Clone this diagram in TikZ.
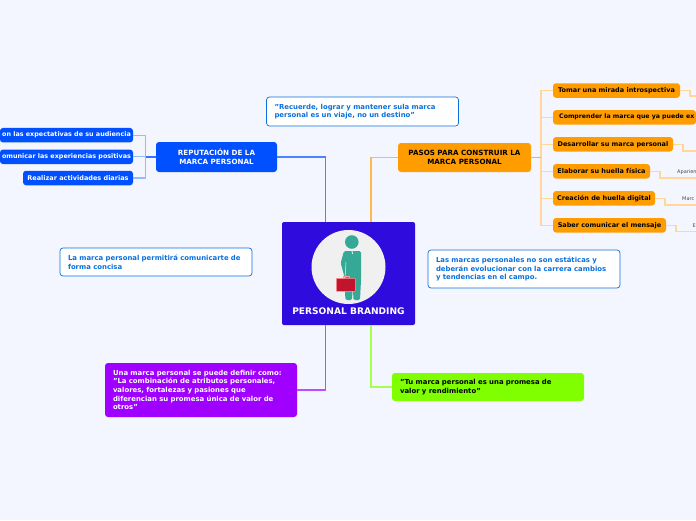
\documentclass[tikz,border=0pt]{standalone}
\usepackage{fontspec}
\setmainfont{DejaVu Sans}
\usetikzlibrary{calc}

\definecolor{pagebg}{HTML}{F3F6FF}
\definecolor{hubcol}{HTML}{300BDE}
\definecolor{bluecol}{HTML}{0050FF}
\definecolor{orangecol}{HTML}{FF9D00}
\definecolor{purplecol}{HTML}{A000FF}
\definecolor{limecol}{HTML}{80FF00}
\definecolor{notecol}{HTML}{0A70DC}
\definecolor{tealcol}{HTML}{36A896}
\definecolor{redcol}{HTML}{C3142D}

\begin{document}
\begin{tikzpicture}[
    x=1pt, y=-1pt,
    box style/.style={rounded corners=3pt, font=\fontsize{6.5}{9}\selectfont\bfseries, inner sep=0pt, outer sep=0pt, anchor=north west},
    main style/.style={box style, font=\fontsize{7.15}{9}\selectfont\bfseries, align=center},
    kid style/.style={box style, fill=#1, minimum height=14.5pt},
    long style/.style={box style, font=\fontsize{6.9}{8.7}\selectfont\bfseries, align=left, text width=192pt, execute at begin node={\leftskip=8pt}},
    note style/.style={long style, draw=notecol, fill=white, text=notecol, line width=.7pt},
    leaf style/.style={font=\fontsize{5}{6}\selectfont, text=black!70, inner sep=0pt, anchor=west},
    every edge/.style={draw, line width=1.2pt},
    down link/.style={to path={|- (\tikztotarget)}},
    right fork/.style={to path={-- ++(10,0) |- (\tikztotarget)}},
    right stem/.style={to path={-- ++(10,0)}},
    left fork/.style={to path={-- ++(-10.5,0) |- (\tikztotarget)}},
    left stem/.style={to path={-- ++(-10.5,0)}}
]

% fixed frame, same size as the reference
\path[use as bounding box, fill=pagebg] (0,0) rectangle (696,520);

% links from the centre
\coordinate (hubNW) at (325.5,222);
\coordinate (hubNE) at (371,222);
\coordinate (hubSW) at (325.5,325);
\coordinate (hubSE) at (371,325);

% central topic
\node[rounded corners=2pt, fill=hubcol, minimum width=133pt, minimum height=103pt, inner sep=0pt, outer sep=0pt, anchor=north west] (hub) at (282,222) {};
\node[circle, fill=black!6, minimum size=74pt, inner sep=0pt] (disc) at (348.5,267) {};
\node[font=\fontsize{9.1}{10}\selectfont\bfseries, text=white, inner sep=0pt] (hubtext) at (348.5,311.5) {PERSONAL BRANDING};

% person with the case
\fill[tealcol] (351.8,242) circle (6.8);
\fill[tealcol, rounded corners=1.5pt] (344,251) -- (361,251) -- (361,280) -- (360,300) -- (353.5,300) -- (352.8,286) -- (352,300) -- (345.3,300) -- (345,279) -- (340.7,263) -- cycle;
\draw[black!6, line width=.5pt] (346,262) -- (345,278);
\draw[black!6, line width=.8pt] (352,251) -- (352.6,254);
\node[rounded corners=.5pt, draw=red!40!white, fill=redcol, line width=.5pt, minimum width=19pt, minimum height=13pt, inner sep=0pt, anchor=north west] (bag) at (336,278) {};
\draw[red!40!white, line width=.6pt] (343,278) -- (343,276.2) -- (349,276.2) -- (349,278);

% main branches
\node[main style, fill=bluecol, text=white, minimum width=121pt, minimum height=30pt] (rep) at (156,142) {REPUTACIÓN DE LA\\MARCA PERSONAL};
\node[main style, fill=orangecol, text=black, minimum width=133pt, minimum height=29pt] (steps) at (398,143) {PASOS PARA CONSTRUIR LA\\MARCA PERSONAL};
\node[long style, fill=purplecol, text=white, minimum height=54pt] (define) at (105,363) {Una marca personal se puede definir como:\\"La combinación de atributos personales,\\valores, fortalezas y pasiones que\\diferencian su promesa única de valor de\\otros"};
\node[long style, fill=limecol, text=black, minimum height=28pt] (promise) at (392,373) {"Tu marca personal es una promesa de\\valor y rendimiento"};

% floating notes
\node[note style, minimum height=29pt] (noteA) at (266.5,97) {"Recuerde, lograr y mantener sula marca\\personal es un viaje, no un destino"};
\node[note style, minimum height=28pt] (noteB) at (60,248) {La marca personal permitirá comunicarte de\\forma concisa};
\node[note style, minimum height=38pt] (noteC) at (428,250) {Las marcas personales no son estáticas y\\deberán evolucionar con la carrera cambios\\y tendencias en el campo.};

% children on the left
\node[kid style=bluecol, text=white, minimum width=133pt, anchor=east] (repA) at (133,135.2) {\fontsize{6.4}{9}\selectfont\hfill on las expectativas de su audiencia\hspace{5pt}};
\node[kid style=bluecol, text=white, minimum width=133pt, anchor=east] (repB) at (133,156.8) {\fontsize{6.4}{9}\selectfont\hfill omunicar las experiencias positivas\hspace{5pt}};
\node[kid style=bluecol, text=white, minimum width=110pt, anchor=east] (repC) at (133,178) {Realizar actividades diarias};

% children on the right
\node[kid style=orangecol, minimum width=127pt, anchor=west] (stepA) at (553,90.5) {Tomar una mirada introspectiva};
\node[kid style=orangecol, minimum width=143pt, anchor=west] (stepB) at (553,117.3) {\fontsize{6.2}{9}\selectfont\hspace{4.5pt}Comprender la marca que ya puede ex\hfill};
\node[kid style=orangecol, minimum width=120pt, anchor=west] (stepC) at (553,144.3) {Desarrollar su marca personal};
\node[kid style=orangecol, minimum width=97pt, anchor=west] (stepD) at (553,171.3) {Elaborar su huella física};
\node[kid style=orangecol, minimum width=102pt, anchor=west] (stepE) at (553,198.3) {Creación de huella digital};
\node[kid style=orangecol, minimum width=113pt, anchor=west] (stepF) at (553,225.3) {Saber comunicar el mensaje};

% small texts at the frame
\node[leaf style] (leafD) at (677,172.5) {Aparien};
\node[leaf style] (leafE) at (682,199) {Marc};
\node[leaf style] (leafF) at (692.5,226) {E};
\coordinate (endA) at (696,96);
\coordinate (endC) at (696,151);
\coordinate (endD) at (696,178);
\coordinate (endE) at (696,205);
\coordinate (endF) at (696,231.5);

\path (hubNW) edge[down link, draw=bluecol!70] (rep.east);
\path (hubNE) edge[down link, draw=orangecol!70] (steps.west);
\path (hubSW) edge[down link, draw=purplecol!70] (define.east);
\path (hubSE) edge[down link, draw=limecol!70] (promise.west);

% links to the children
\path (rep.west) edge[left fork, draw=bluecol!40] (repA.east);
\path (rep.west) edge[left fork, draw=bluecol!40] (repB.east);
\path (rep.west) edge[left fork, draw=bluecol!40] (repC.east);
\path (rep.west) edge[left stem, draw=bluecol!80] (repB.east);
\path (steps.east) edge[right fork, draw=orangecol!40] (stepA.west);
\path (steps.east) edge[right fork, draw=orangecol!40] (stepB.west);
\path (steps.east) edge[right fork, draw=orangecol!40] (stepC.west);
\path (steps.east) edge[right fork, draw=orangecol!40] (stepD.west);
\path (steps.east) edge[right fork, draw=orangecol!40] (stepE.west);
\path (steps.east) edge[right fork, draw=orangecol!40] (stepF.west);
\path (steps.east) edge[right stem, draw=orangecol!80] (stepD.west);
\path (stepA.east) edge[right fork, draw=orangecol!40] (endA);
\path (stepC.east) edge[right fork, draw=orangecol!40] (endC);
\path (stepD.east) edge[right fork, draw=orangecol!40] (endD);
\path (stepE.east) edge[right fork, draw=orangecol!40] (endE);
\path (stepF.east) edge[right fork, draw=orangecol!40] (endF);

\end{tikzpicture}
\end{document}
